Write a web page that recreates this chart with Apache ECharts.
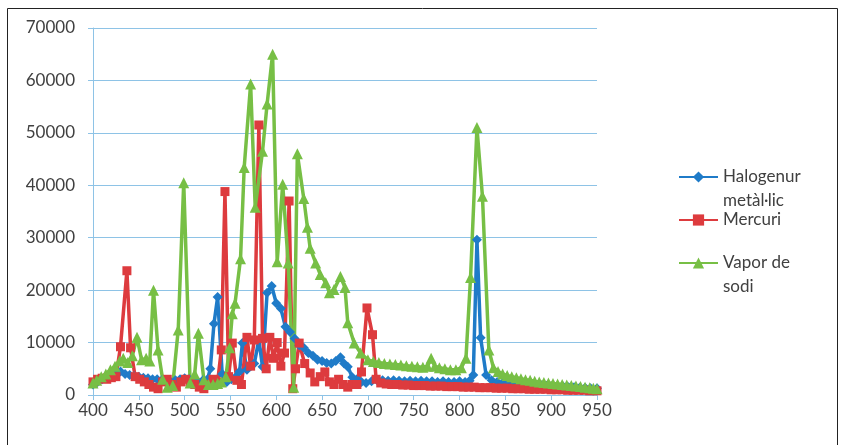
<!DOCTYPE html>
<html>
<head>
<meta charset="utf-8">
<script src="https://cdn.jsdelivr.net/npm/echarts@6/dist/echarts.min.js"></script>
<style>
  html, body { margin: 0; padding: 0; background: #fff; }
  #main { width: 843px; height: 445px; }
</style>
</head>
<body>
<div id="main"></div>
<script>
// noms de les sèries i etiquetes de la llegenda
var seriesNames = ['Halogenur metàl·lic', 'Mercuri', 'Vapor de sodi'];
var legendLabels = ['Halogenur\nmetàl·lic', 'Mercuri', 'Vapor de\nsodi'];

// Halogenur metàl·lic
var haloWl = [400,405,410,415,420,425,430,435,440,445,450,455,460,465,470,475,480,485,490,495,500,505,510,515,520,525,528,532,536,541,546,551,556,560,563,568,572,576,581,585,590,595,600,605,610,615,620,625,630,635,640,645,650,655,660,665,670,674,678,683,688,693,698,704,710,716,722,728,734,740,746,752,758,764,770,776,782,788,794,800,806,811,815,819,823,829,835,841,847,853,859,865,871,877,883,889,895,901,907,913,919,925,931,937,943,950];
var haloVal = [2000,2500,3000,3500,4000,4300,4500,4000,3800,3600,3500,3300,3200,3000,3000,2800,2500,2500,2800,3000,3200,3000,2800,2500,2800,3000,5000,13600,18700,4000,2500,3000,3500,4500,9900,4800,5500,6000,10500,5400,19500,20800,17500,16500,13000,12000,10800,9500,9000,8000,7500,6700,6500,6100,6000,6500,7200,6000,5400,3400,3000,2500,2300,2600,2800,2800,2700,2800,2700,2600,2700,2600,2700,2600,2600,2500,2600,2500,2500,2600,2500,2700,3800,29600,10900,3800,2800,2500,2300,2200,2100,2000,1900,1900,1800,1800,1700,1700,1600,1600,1500,1500,1400,1400,1300,1300];

// Mercuri
var mercWl = [400,405,410,415,420,425,430,437,441,446,451,456,461,466,471,476,481,486,491,496,501,506,511,516,521,526,531,536,540,544,548,552,557,562,568,572,576,581,585,589,593,597,601,605,609,614,618,621,625,631,637,642,648,653,658,663,668,673,678,683,688,693,699,705,709,714,720,726,732,738,744,750,756,762,768,774,780,786,792,798,804,810,816,822,828,834,840,846,852,858,864,870,876,882,888,894,900,906,912,918,924,930,936,942,950];
var mercVal = [2500,3000,3200,3000,3300,3500,9200,23700,9000,3500,3000,2500,2000,1500,1200,2500,3000,2000,1500,2500,3000,2500,2000,1500,1200,2000,3000,2500,8600,38800,3500,9900,2800,2000,11000,5500,10500,51500,10800,5000,11000,7000,10000,5500,8000,37000,1200,5000,9900,6000,4200,2500,3500,4400,2500,2000,3000,2000,1500,2000,2000,4400,16600,11500,3000,2300,2100,2000,2000,1900,1900,1800,1800,1800,1700,1700,1700,1600,1600,1600,1500,1500,1500,1400,1400,1400,1300,1300,1300,1200,1200,1200,1100,1100,1100,1100,1000,1000,1000,900,900,900,900,800,800];

// Vapor de sodi
var sodiWl = [400,404,409,414,419,424,429,433,438,443,448,453,458,462,466,471,476,481,487,493,499,506,511,515,521,526,531,536,540,545,549,552,555,561,565,572,577,585,590,596,601,607,613,619,623,630,634,637,643,648,654,658,663,670,675,678,685,692,700,706,712,718,724,730,736,742,748,754,760,765,769,773,778,784,790,796,802,807,812,819,825,832,837,842,847,852,857,862,867,872,877,882,887,892,897,902,907,912,917,922,927,932,937,942,946,950];
var sodiVal = [2300,2800,3500,4000,4800,5500,6500,7000,6200,7500,11000,6700,7000,6500,20000,8600,3000,1500,1800,12400,40500,2300,4000,11800,2900,2000,2000,2200,2500,3500,9000,15500,17500,26000,43400,59300,35800,46500,55500,65000,25400,40200,25200,1500,46000,37500,32000,28000,25200,23000,21400,19500,20100,22600,20500,13800,9900,8000,6700,6400,6200,6000,5900,5800,5700,5600,5500,5400,5300,5500,7000,5500,5200,5000,4800,4800,5200,7000,22400,51000,37900,8600,5200,4500,4000,3700,3500,3300,3100,2900,2800,2600,2500,2400,2300,2200,2100,2000,1900,1800,1700,1600,1500,1400,1300,1200];

var colors = ['#1f7bc8', '#dd3b3e', '#77bf45'];
var symbols = ['diamond', 'rect', 'triangle'];
var symbolSizes = [10, 9, 11];
var textColor = '#404040';
var gridColor = '#8ec3e6';

function pairs(wl, val) {
  return wl.map(function (w, i) { return [w, val[i]]; });
}
var seriesData = [pairs(haloWl, haloVal), pairs(mercWl, mercVal), pairs(sodiWl, sodiVal)];

var series = [];
for (var i = 0; i < 3; i++) {
  series.push({
    name: seriesNames[i],
    type: 'line',
    data: seriesData[i],
    symbol: symbols[i],
    symbolSize: symbolSizes[i],
    color: colors[i],
    lineStyle: { width: 3.5, color: colors[i] },
    itemStyle: { color: colors[i] }
  });
}

// una llegenda per element; la primera línia del text va a l'altura de la icona
var legendCenters = [177, 220, 263];
var lineH = 23.5;
var legends = [];
for (var j = 0; j < 3; j++) {
  var twoLines = legendLabels[j].indexOf('\n') >= 0;
  // amb una línia buida al davant, la del mig queda centrada amb la icona
  var label = twoLines ? '\u00a0\n' + legendLabels[j] : legendLabels[j];
  legends.push({
    data: [seriesNames[j]],
    orient: 'vertical',
    left: 678,
    top: legendCenters[j] - (twoLines ? 1.5 * lineH : 0.5 * lineH),
    padding: 0,
    itemWidth: 39,
    itemHeight: 14,
    formatter: (function (txt) { return function () { return txt; }; })(label),
    textStyle: {
      fontFamily: 'Lato',
      fontSize: 17,
      lineHeight: lineH,
      color: textColor
    }
  });
}

var option = {
  animation: false,
  backgroundColor: '#fff',
  textStyle: { fontFamily: 'Lato' },
  grid: { left: 93, right: 246, top: 28, bottom: 50 },
  legend: legends,
  xAxis: {
    type: 'value',
    min: 400,
    max: 950,
    interval: 50,
    axisLine: { lineStyle: { color: gridColor, width: 1 } },
    axisTick: { show: true, length: 5, lineStyle: { color: gridColor } },
    axisLabel: { fontSize: 17, color: textColor, margin: 7, fontFamily: 'Lato' },
    splitLine: { show: false }
  },
  yAxis: {
    type: 'value',
    min: 0,
    max: 70000,
    interval: 10000,
    axisLine: { show: true, lineStyle: { color: gridColor, width: 1 } },
    axisTick: { show: true, length: 5, lineStyle: { color: gridColor } },
    axisLabel: {
      fontSize: 17, color: textColor, margin: 18, fontFamily: 'Lato',
      formatter: function (v) { return String(v); }
    },
    splitLine: { lineStyle: { color: gridColor, width: 1 } }
  },
  graphic: [{
    type: 'rect',
    silent: true,
    shape: { x: 7.5, y: 8.5, width: 830, height: 460 },
    style: { fill: 'none', stroke: '#222', lineWidth: 1 }
  }],
  series: series
};

var myChart = echarts.init(document.getElementById('main'));
myChart.setOption(option);
</script>
</body>
</html>
